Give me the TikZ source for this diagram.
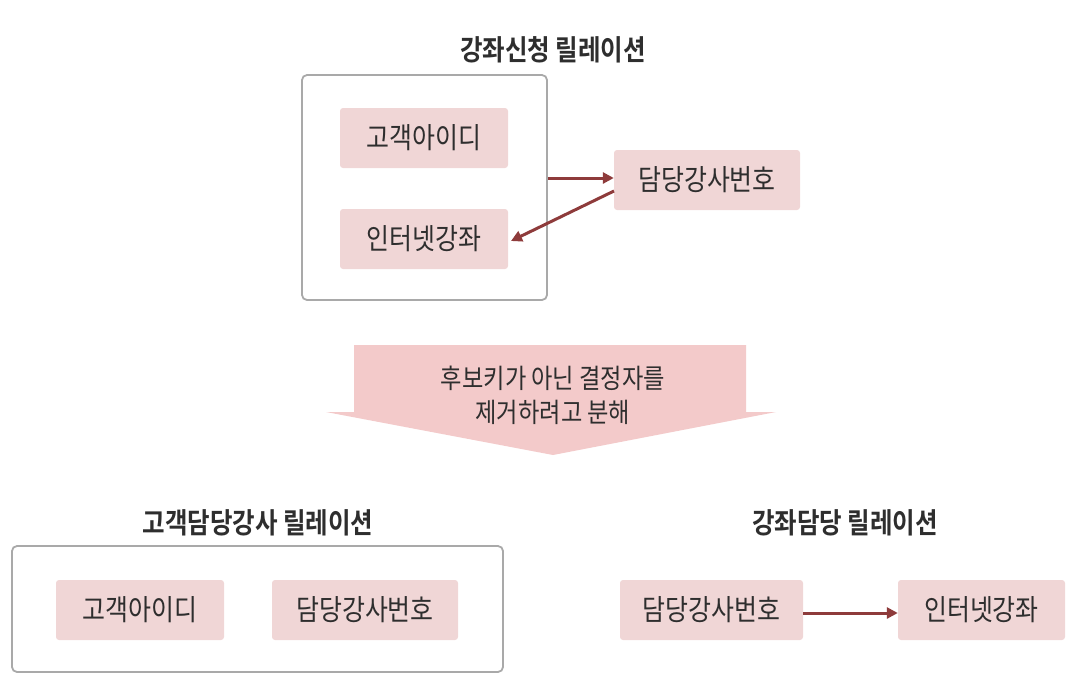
\documentclass[tikz,border=0pt]{standalone}
\usepackage{fontspec}
\usetikzlibrary{arrows.meta}
\newfontfamily\kr[FakeStretch=0.86]{Noto Sans CJK KR}
\newfontfamily\krb[FakeStretch=0.86]{Noto Sans CJK KR Bold}
\definecolor{boxfill}{HTML}{F0D6D6}
\definecolor{arrowred}{HTML}{8E3B3B}
\definecolor{frame}{HTML}{A9A9A9}
\definecolor{bigarrow}{HTML}{F3CACA}
\definecolor{txt}{HTML}{2E2E2E}
\tikzset{
  attr/.style={fill=boxfill, rounded corners=3pt, inner sep=0pt, text=txt,
    font=\kr\fontsize{29}{32}\selectfont},
  relframe/.style={draw=frame, line width=1.8pt, rounded corners=5pt},
  reltitle/.style={text=txt, font=\krb\fontsize{28.5}{32}\selectfont, inner sep=0pt},
  dep/.style={draw=arrowred, line width=3pt, -{Triangle[length=11pt,width=11pt]}},
  midtext/.style={text=txt, font=\kr\fontsize{27}{30}\selectfont, inner sep=0pt, align=center}
}
\begin{document}
\begin{tikzpicture}[x=1pt,y=-1pt]
\useasboundingbox (0,0) rectangle (1085,683);
% top relation
\node[reltitle] (t1) at (553,50) {강좌신청 릴레이션};
\node[relframe, minimum width=245pt, minimum height=225pt] (f1) at (424.5,187.5) {};
\node[attr, minimum width=168pt, minimum height=60pt] (a1) at (424,138) {고객아이디};
\node[attr, minimum width=168pt, minimum height=60pt] (a2) at (424,239) {인터넷강좌};
\node[attr, minimum width=186pt, minimum height=60pt] (a3) at (707,180) {담당강사번호};
\draw[dep] (f1.east |- 0,178) -- (a3.west |- 0,178);
\coordinate (s2) at (614,191);
\coordinate (e2) at (511,241);
\draw[dep] (s2) -- (e2);
% big arrow
\fill[bigarrow] (354,345) -- (746,345) -- (746,412) -- (776,412) -- (553,455) -- (326,412) -- (354,412) -- cycle;
\node[midtext] (m1) at (553,378) {후보키가 아닌 결정자를};
\node[midtext] (m2) at (553,412) {제거하려고 분해};
% bottom left relation
\node[reltitle] (t2) at (258,523) {고객담당강사 릴레이션};
\node[relframe, minimum width=491pt, minimum height=126pt] (f2) at (257.5,609) {};
\node[attr, minimum width=168pt, minimum height=60pt] (b1) at (140,610) {고객아이디};
\node[attr, minimum width=186pt, minimum height=60pt] (b2) at (365,610) {담당강사번호};
% bottom right relation
\node[reltitle] (t3) at (845,523) {강좌담당 릴레이션};
\node[attr, minimum width=183pt, minimum height=60pt] (c1) at (711.5,610) {담당강사번호};
\node[attr, minimum width=167pt, minimum height=60pt] (c2) at (981.5,610) {인터넷강좌};
\draw[dep] (c1.east |- 0,613) -- (c2.west |- 0,613);
\end{tikzpicture}
\end{document}
